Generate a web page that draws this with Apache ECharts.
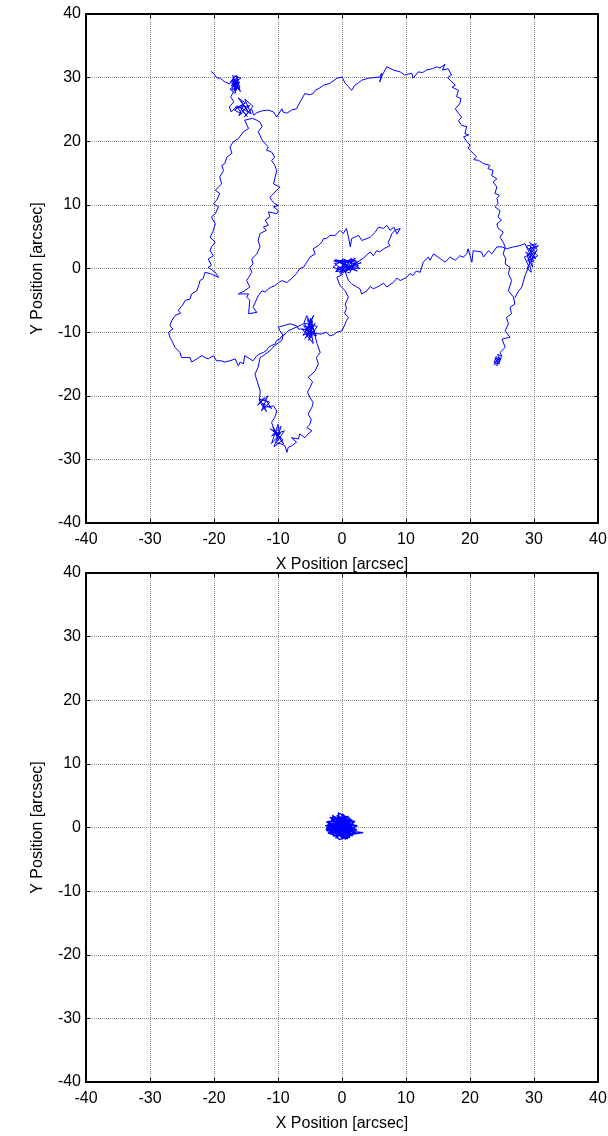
<!DOCTYPE html>
<html>
<head>
<meta charset="utf-8">
<script src="https://cdn.jsdelivr.net/npm/echarts@6/dist/echarts.min.js"></script>
<style>
  html, body { margin: 0; padding: 0; background: #fff; }
  #main { width: 608px; height: 1136px; }
</style>
</head>
<body>
<div id="main"></div>
<script>
  // axis range / ticks (both panels)
  const AXIS_MIN = -40
  const AXIS_MAX = 40
  const AXIS_STEP = 10
  const X_NAME = 'X Position [arcsec]'
  const Y_NAME = 'Y Position [arcsec]'

  // ---- top panel: uncorrected drift ----
  const SEG_START = [
    [-20.5, 31.0], [-20.0, 30.6], [-19.6, 30.0], [-19.0, 29.9], [-18.4, 29.4], [-17.6, 29.0],
    [-17.0, 29.9], [-16.8, 28.4], [-16.3, 30.2], [-17.3, 28.7], [-16.0, 29.3], [-16.6, 27.9],
    [-17.2, 29.6], [-15.9, 28.6], [-16.9, 28.1], [-16.2, 29.8], [-16.7, 27.5], [-17.5, 28.2],
    [-16.4, 29.0], [-17.1, 30.3], [-15.8, 29.9], [-16.9, 29.2], [-16.1, 28.1], [-17.4, 29.3],
    [-16.5, 30.4], [-15.9, 27.8], [-16.8, 29.7], [-17.2, 28.0], [-16.3, 28.8], [-17.4, 27.0],
    [-16.9, 26.2], [-17.6, 25.4], [-17.3, 24.6], [-16.4, 25.6], [-15.7, 24.3], [-16.8, 24.9],
    [-15.4, 25.8], [-16.1, 24.0], [-15.0, 25.2], [-15.8, 26.3], [-14.6, 24.6], [-16.2, 26.8],
    [-15.1, 26.0], [-16.6, 25.2], [-14.4, 25.6], [-15.6, 24.8], [-14.8, 23.9], [-16.0, 25.4],
    [-14.2, 24.3], [-15.2, 26.6], [-13.9, 25.5], [-15.3, 23.8], [-14.1, 25.0], [-13.8, 24.1],
    [-13.3, 24.5]
  ]
  const SEG_TOP = [
    [-13.3, 24.6], [-12.4, 24.8], [-11.5, 24.9], [-10.7, 24.6], [-10.2, 23.8], [-9.4, 25.1],
    [-9.2, 24.6], [-8.6, 24.4], [-7.9, 24.9], [-7.1, 25.1], [-6.8, 25.7], [-6.3, 26.6],
    [-5.8, 27.5], [-5.1, 27.3], [-4.5, 27.5], [-4.2, 28.0], [-3.6, 28.3], [-2.9, 28.8],
    [-1.9, 29.1], [-1.9, 28.8], [-0.8, 29.9], [0.0, 30.1], [0.5, 29.1], [1.0, 28.6],
    [1.5, 28.0], [2.0, 28.8], [2.6, 29.2], [3.1, 29.6], [3.3, 29.3], [4.1, 29.9],
    [5.0, 30.0], [5.9, 30.1], [6.2, 30.7], [5.9, 29.3], [6.3, 30.4], [7.0, 31.7],
    [8.0, 31.2], [9.1, 30.9], [9.8, 30.4], [10.9, 30.7], [11.1, 29.9], [11.9, 30.9],
    [12.6, 30.8], [13.2, 31.2], [14.1, 31.4], [14.8, 31.7], [15.3, 31.5], [16.1, 32.1],
    [15.7, 31.2], [16.6, 31.4], [17.1, 30.4], [16.5, 30.0], [16.9, 29.6], [17.7, 28.8],
    [17.2, 28.5], [18.2, 28.0], [17.9, 27.0], [18.6, 26.7], [18.4, 25.9], [17.7, 25.1],
    [18.2, 24.4], [18.7, 23.8], [18.2, 23.2], [18.7, 22.5], [19.5, 22.3], [19.2, 21.2],
    [19.8, 21.0], [19.0, 20.7], [19.5, 19.9], [20.0, 19.4], [19.7, 18.9], [20.5, 18.1],
    [21.0, 17.6], [20.6, 17.1], [21.3, 17.0], [22.1, 16.5], [23.1, 16.2], [22.8, 15.7],
    [23.6, 15.4], [23.4, 14.6], [24.2, 14.1], [23.6, 13.6], [24.2, 12.8], [23.9, 11.8],
    [24.6, 11.5], [24.2, 11.0], [24.4, 10.2], [23.9, 9.7], [24.7, 9.1], [24.4, 8.1],
    [24.9, 7.6], [24.2, 7.0], [24.4, 6.3], [25.2, 5.7], [24.7, 4.9], [25.2, 4.1],
    [25.5, 3.4], [25.2, 2.3], [25.6, 1.5], [25.5, 0.7], [26.25, 0.2], [26.0, -0.8],
    [26.5, -1.9], [26.0, -3.5], [26.8, -4.5], [27.0, -5.6], [26.25, -6.1], [26.5, -7.1],
    [25.7, -7.7], [26.0, -8.7], [25.5, -9.8], [26.25, -10.8], [25.0, -11.1], [25.5, -12.4],
    [24.7, -13.2], [25.0, -13.8], [24.3, -13.5], [24.8, -14.4], [23.9, -14.1], [24.6, -15.0],
    [24.0, -14.6], [24.9, -14.0], [24.2, -15.3], [24.5, -13.9], [23.8, -15.1], [24.7, -14.7],
    [24.1, -13.8], [23.75, -14.9]
  ]
  const SEG_EAST = [
    [27.0, -4.6], [27.5, -3.7], [28.1, -2.9], [28.6, -1.1], [29.2, 0.3], [28.5, 1.8],
    [29.7, 2.4], [28.8, 3.5], [30.4, 3.9], [29.5, 2.9], [30.6, 2.0], [29.0, 1.2],
    [30.1, 3.4], [29.3, 4.1], [30.5, 3.0], [28.9, 0.0], [29.6, -0.6], [29.1, 1.6],
    [30.2, 2.6], [29.4, 3.6], [29.9, 1.0], [28.7, 2.6], [30.3, 1.5], [29.2, 3.1],
    [30.7, 3.6], [28.9, 2.0], [29.8, 0.2], [29.4, 2.2], [28.6, 3.9], [27.8, 3.6],
    [26.8, 3.4], [25.7, 3.1], [25.0, 3.4], [24.2, 3.4], [23.4, 2.3], [22.9, 2.8],
    [22.1, 1.8], [21.8, 2.6], [20.5, 2.8], [20.3, 1.0], [19.7, 3.1], [19.5, 2.3],
    [18.95, 1.8], [18.4, 2.0], [17.7, 1.3], [16.9, 1.8], [16.1, 1.0], [15.0, 1.8],
    [14.3, 2.3], [13.75, 1.3], [13.5, 1.8], [12.7, 1.0], [12.2, -0.6], [11.6, -0.4],
    [11.1, -1.1], [10.6, -0.8], [10.1, -1.4], [9.1, -1.9], [8.6, -1.5], [8.0, -2.2],
    [7.0, -2.9], [6.5, -2.3], [5.9, -2.7], [4.9, -3.2], [4.4, -2.8], [3.9, -3.5],
    [3.1, -4.0], [2.8, -3.2], [2.3, -2.9], [1.5, -2.4], [1.0, -1.9]
  ]
  const SEG_CENTER = [
    [0.5, -0.5], [-1.2, 0.8], [1.8, 1.2], [-0.4, -0.6], [2.6, 0.4], [0.2, 1.5],
    [-1.4, 0.2], [1.2, -0.7], [2.2, 1.3], [-0.6, 1.1], [0.9, 0.1], [3.0, 0.9],
    [-0.9, -0.3], [1.5, 1.6], [0.0, 0.4], [2.4, -0.4], [-1.1, 1.4], [1.0, 0.9],
    [-0.3, -0.9], [1.9, 0.3], [-1.3, 1.2], [0.6, 1.3], [2.8, 0.0], [-0.7, 0.2],
    [1.4, -0.3], [0.1, 0.9], [2.1, 1.6], [-1.0, -0.5], [0.8, -0.2], [1.6, 0.8],
    [-0.2, 1.2], [2.5, 1.0], [0.3, -0.4], [3.3, 1.6]
  ]
  const SEG_ARM = [
    [4.4, 2.6], [4.9, 2.0], [5.4, 2.8], [5.9, 2.6], [6.5, 3.1], [7.5, 3.6],
    [7.2, 4.1], [7.5, 4.7], [7.8, 5.5], [8.3, 6.0], [9.1, 6.3], [8.6, 5.4],
    [8.1, 6.5], [7.5, 6.0], [7.0, 6.8], [6.5, 6.3], [5.7, 6.5], [5.2, 5.7],
    [4.4, 4.9], [4.1, 4.8], [3.1, 4.4], [2.6, 5.2], [2.1, 5.0], [1.5, 4.7],
    [1.3, 3.4], [1.0, 5.0], [0.7, 6.3], [0.2, 5.5], [-0.3, 6.0], [-1.1, 5.2],
    [-1.9, 5.2], [-2.4, 4.7], [-2.9, 4.7], [-3.1, 4.2], [-3.7, 3.6], [-4.5, 3.1],
    [-4.2, 2.3], [-5.0, 1.8], [-5.5, 1.0], [-6.0, 0.2], [-6.6, 0.0], [-7.1, -0.8],
    [-7.9, -1.6], [-8.6, -2.2], [-9.4, -1.9], [-9.9, -2.2], [-10.5, -2.7], [-11.0, -2.9],
    [-11.5, -3.2], [-12.0, -3.7], [-12.5, -3.5], [-13.1, -4.3], [-13.9, -6.1], [-13.3, -6.9],
    [-14.6, -7.1], [-14.4, -5.0], [-14.9, -4.5], [-14.6, -4.0], [-16.2, -4.0], [-15.2, -3.5],
    [-14.4, -2.9]
  ]
  const SEG_INNER = [
    [-14.9, -1.9], [-14.6, -1.4], [-14.1, -0.6], [-14.4, 0.2], [-13.9, 0.7], [-14.1, 1.5],
    [-13.3, 2.3], [-13.1, 2.8], [-12.8, 3.4], [-13.1, 4.4], [-12.8, 5.5], [-12.5, 5.7],
    [-11.8, 6.0], [-12.3, 6.5], [-11.5, 6.8], [-12.0, 7.6], [-11.25, 8.1], [-11.5, 8.9],
    [-10.2, 8.6], [-9.95, 9.1], [-10.7, 9.7], [-9.95, 9.9], [-10.5, 10.2], [-11.0, 10.7],
    [-11.25, 11.2], [-10.2, 12.3], [-9.7, 12.8], [-10.7, 13.3], [-10.5, 14.1], [-10.2, 15.4],
    [-10.5, 16.2], [-11.0, 17.0], [-10.5, 17.5], [-11.0, 18.3], [-11.8, 18.6], [-11.5, 19.1],
    [-12.0, 19.6], [-12.5, 20.2], [-12.8, 20.9], [-13.1, 21.5], [-12.5, 22.3], [-12.8, 23.0],
    [-13.3, 23.3]
  ]
  const SEG_OUTER = [
    [-14.0, 23.6], [-15.2, 23.3], [-14.6, 22.0], [-15.4, 21.5], [-16.2, 20.4], [-17.0, 19.9],
    [-17.5, 19.1], [-17.2, 18.1], [-18.0, 17.5], [-18.3, 16.5], [-18.8, 16.2], [-18.5, 15.4],
    [-19.1, 14.4], [-18.8, 13.3], [-19.3, 12.8], [-19.8, 12.3], [-19.1, 11.8], [-19.6, 10.7],
    [-20.1, 10.2], [-19.3, 9.7], [-19.8, 8.6], [-20.4, 8.1], [-19.8, 7.0], [-20.1, 6.0],
    [-20.6, 4.9], [-19.8, 4.1], [-20.4, 3.4], [-20.6, 2.8], [-20.1, 2.0], [-20.9, 1.5],
    [-20.4, 0.5], [-20.9, 0.2], [-19.8, -0.6], [-19.3, -1.4], [-20.6, -0.8], [-21.4, -0.6],
    [-21.7, -1.6], [-22.2, -1.9], [-22.4, -2.7], [-22.7, -3.5], [-23.5, -4.0], [-23.75, -4.8],
    [-24.5, -5.0], [-24.8, -5.6], [-25.6, -6.6], [-25.2, -7.0], [-26.1, -7.4], [-26.6, -8.2],
    [-26.9, -9.0], [-26.4, -9.5], [-27.1, -10.0], [-26.9, -10.8], [-26.6, -11.3], [-26.1, -12.4],
    [-25.3, -13.2], [-25.1, -14.0], [-24.3, -14.0], [-23.75, -14.0], [-23.5, -14.7], [-22.7, -14.2],
    [-21.9, -13.7], [-21.4, -14.0], [-20.9, -14.2], [-20.1, -13.7], [-19.6, -14.5], [-18.9, -14.5],
    [-18.3, -14.7], [-17.5, -14.5], [-16.7, -14.2], [-16.2, -15.3], [-15.9, -14.7], [-15.4, -15.0],
    [-15.2, -13.7], [-14.4, -14.2], [-13.9, -14.5], [-13.3, -13.7], [-12.8, -13.4], [-12.3, -13.2],
    [-11.8, -12.9], [-11.5, -12.4], [-11.0, -12.1], [-10.5, -11.9], [-10.2, -11.3], [-9.7, -11.1],
    [-9.4, -10.6], [-8.9, -10.3], [-8.4, -9.8], [-7.1, -9.2], [-6.0, -8.7]
  ]
  const SEG_KNOT = [
    [-5.5, -7.4], [-4.3, -9.8], [-6.1, -10.5], [-4.6, -8.2], [-5.2, -11.3], [-3.9, -9.1],
    [-5.9, -8.6], [-4.8, -10.9], [-5.4, -7.9], [-4.1, -10.3], [-6.2, -9.5], [-4.5, -11.8],
    [-5.0, -8.8], [-4.0, -10.6], [-5.7, -10.0], [-4.4, -7.3], [-5.3, -9.4], [-4.7, -9.9],
    [-5.8, -11.0], [-4.2, -8.6], [-5.1, -10.2], [-6.0, -9.0], [-4.6, -9.3], [-5.4, -10.7],
    [-4.9, -7.8], [-3.9, -11.8]
  ]
  const SEG_LOWER = [
    [-3.4, -13.2], [-4.0, -14.0], [-3.7, -15.0], [-4.2, -16.1], [-4.7, -16.6], [-5.3, -17.1],
    [-4.6, -17.8], [-5.0, -18.7], [-5.4, -19.4], [-5.0, -20.3], [-4.5, -21.1], [-4.7, -21.8],
    [-5.3, -22.9], [-4.8, -23.7], [-5.0, -24.5], [-5.5, -25.0], [-4.7, -25.5], [-5.3, -26.0],
    [-5.8, -26.6], [-6.6, -26.0], [-6.8, -26.8], [-7.9, -26.6], [-7.1, -27.3], [-7.9, -27.9],
    [-8.4, -28.1], [-8.6, -28.9], [-8.9, -27.9], [-9.4, -27.6], [-10.3, -27.4], [-9.0, -25.5],
    [-11.0, -26.3], [-9.5, -24.8], [-10.6, -28.0], [-9.2, -26.9], [-11.2, -25.2], [-9.8, -26.0],
    [-10.0, -24.5], [-11.0, -27.5], [-9.6, -25.9], [-10.4, -25.8], [-9.1, -27.6], [-10.8, -24.9],
    [-9.9, -27.0], [-10.2, -26.4], [-11.0, -24.2], [-10.5, -23.4], [-10.2, -22.4], [-10.7, -21.6],
    [-12.0, -21.8], [-13.0, -20.5], [-11.3, -21.0], [-12.6, -22.4], [-11.6, -20.0], [-13.2, -21.5],
    [-12.2, -20.3], [-11.0, -22.0], [-12.4, -21.2], [-11.8, -22.5], [-12.9, -20.9], [-12.8, -19.6],
    [-12.8, -19.2], [-13.3, -17.6], [-13.6, -16.6], [-13.1, -15.5], [-12.8, -14.0], [-12.3, -13.7],
    [-11.25, -12.9], [-10.5, -12.1], [-9.4, -11.3], [-9.2, -10.5], [-9.7, -9.8], [-9.95, -9.2],
    [-9.2, -9.0], [-8.1, -8.7], [-7.1, -9.0], [-6.8, -9.5], [-5.6, -9.6], [-4.4, -10.2]
  ]
  const SEG_BACK = [
    [-3.2, -10.3], [-2.4, -10.0], [-1.9, -10.6], [-1.3, -10.4], [-0.8, -10.0], [0.0, -9.8],
    [0.5, -8.7], [0.7, -8.2], [1.0, -7.7], [0.4, -7.0], [0.7, -6.3], [0.5, -5.6],
    [1.0, -4.5], [0.5, -3.5], [-0.3, -2.7], [-0.8, -1.4], [0.2, -0.9]
  ]

  // ---- bottom panel: corrected positions, a tight knot at the origin ----
  const CORRECTED = [
    [0.0, 0.0], [-2.2, 0.6], [1.9, 0.9], [-1.6, 1.5], [0.4, -1.3], [-2.5, -0.2],
    [2.2, 0.1], [-0.8, 1.9], [1.2, -1.6], [-1.9, -1.0], [1.6, 1.2], [-2.4, 0.9],
    [0.9, -1.8], [-1.2, 1.7], [2.3, -0.4], [-2.0, -0.7], [0.2, 2.1], [1.4, -1.1],
    [-2.6, 0.3], [1.8, 0.5], [-1.0, -1.7], [0.7, 1.6], [-1.7, 1.2], [2.1, -0.9],
    [-0.4, -1.9], [-2.3, 0.0], [1.3, 1.4], [-0.6, 2.3], [0.3, -1.5], [-2.1, 1.0],
    [2.4, 0.3], [-1.4, -1.4], [1.0, 1.8], [-2.5, -0.4], [1.7, -1.3], [-0.9, 1.3],
    [0.6, -1.9], [-1.8, 0.4], [2.0, 1.0], [-0.2, -1.2], [-1.5, 1.9], [1.5, -0.2],
    [-2.2, -0.9], [0.8, 0.6], [-1.1, -0.5], [2.3, -0.7], [3.3, -0.8], [2.1, -1.0],
    [0.0, 1.2], [-1.9, 1.6], [1.1, -0.9], [-0.5, 0.3], [-2.4, -0.5], [1.9, -0.1],
    [-0.7, -1.0], [0.5, 0.9], [-1.3, 0.0], [1.2, 0.2], [-0.3, -0.6], [-1.0, 0.8],
    [0.9, -0.4], [-0.1, 1.5], [-1.6, -0.3], [0.4, 0.4], [-2.0, 0.2], [1.6, 0.0],
    [-0.9, -1.3], [0.3, 1.8], [-1.7, -0.6], [2.0, -0.5], [-1.3, 1.0], [0.8, -1.2],
    [-0.4, 0.8], [1.4, 0.6], [-2.3, 0.4], [0.1, -1.7], [1.8, -0.8], [-0.8, 0.5]
  ]

  const PATH_A = [...SEG_START, ...SEG_TOP]
  const PATH_B = [...SEG_EAST, ...SEG_CENTER, ...SEG_ARM, ...SEG_INNER, ...SEG_OUTER,
    ...SEG_KNOT, ...SEG_LOWER, ...SEG_BACK]

  const FONT = 'Liberation Sans, Arial, sans-serif'
  const BLUE = '#0000ff'

  const axisLine = { show: true, onZero: false, lineStyle: { color: '#000', width: 2 } }
  const axisTick = { show: true, inside: true, length: 4, lineStyle: { color: '#000' } }
  const splitLine = { show: true, lineStyle: { color: '#8a8a8a', width: 1, type: [1, 1] } }
  const textStyle = { color: '#000', fontSize: 16, fontFamily: FONT }

  function xAxes (gridIndex) {
    const base = { gridIndex, type: 'value', min: AXIS_MIN, max: AXIS_MAX, interval: AXIS_STEP, axisLine, axisTick }
    return [
      {
        ...base,
        position: 'bottom',
        axisLabel: { ...textStyle, margin: 9, showMinLabel: true, showMaxLabel: true },
        splitLine,
        name: X_NAME,
        nameLocation: 'middle',
        nameGap: 34,
        nameTextStyle: textStyle
      },
      { ...base, position: 'top', axisLabel: { show: false }, splitLine: { show: false } }
    ]
  }

  function yAxes (gridIndex) {
    const base = { gridIndex, type: 'value', min: AXIS_MIN, max: AXIS_MAX, interval: AXIS_STEP, axisLine, axisTick }
    return [
      {
        ...base,
        position: 'left',
        axisLabel: { ...textStyle, margin: 5, showMinLabel: true, showMaxLabel: true },
        splitLine,
        name: Y_NAME,
        nameLocation: 'middle',
        nameGap: 40,
        nameTextStyle: textStyle
      },
      { ...base, position: 'right', axisLabel: { show: false }, splitLine: { show: false } }
    ]
  }

  function track (data, axisIndex, width) {
    return {
      type: 'line',
      xAxisIndex: axisIndex,
      yAxisIndex: axisIndex,
      data,
      showSymbol: false,
      symbol: 'none',
      smooth: false,
      lineStyle: { color: BLUE, width },
      silent: true,
      z: 3
    }
  }

  const options = {
    backgroundColor: '#fff',
    animation: false,
    grid: [
      { left: 86, top: 14, width: 512, height: 509, containLabel: false, outerBoundsMode: 'none' },
      { left: 86, top: 573, width: 512, height: 509, containLabel: false, outerBoundsMode: 'none' }
    ],
    xAxis: [...xAxes(0), ...xAxes(1)],
    yAxis: [...yAxes(0), ...yAxes(1)],
    series: [
      track(PATH_A, 0, 1),
      track(PATH_B, 0, 1),
      track(CORRECTED, 2, 1.4)
    ]
  }

  const chart = echarts.init(document.getElementById('main'), null, { renderer: 'canvas' })
  chart.setOption(options)
</script>
</body>
</html>
